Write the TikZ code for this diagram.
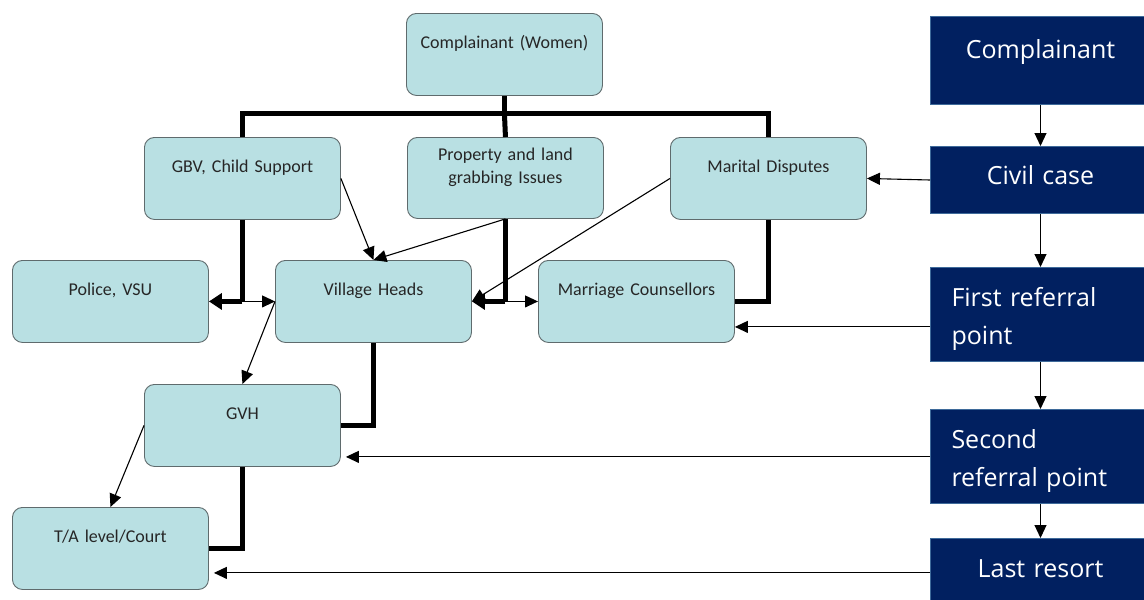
\documentclass[tikz,border=0pt]{standalone}
\usepackage{fontspec}
\setmainfont{Carlito}
\newfontfamily\stagefont{Open Sans}
\usepackage{tikz}
\usetikzlibrary{arrows.meta,calc}
\usepackage{xcolor}
\definecolor{case-fill}{HTML}{B9E0E3}
\definecolor{case-edge}{HTML}{5F6B6D}
\definecolor{stage-blue}{HTML}{012060}
\definecolor{stage-edge}{HTML}{3E6A9A}

\tikzset{
  casebox/.style={draw=case-edge, fill=case-fill, rounded corners=10pt, line width=0.9pt,
    anchor=north west, minimum width=196pt, text width=196pt, inner sep=0pt, align=center,
    text height=35pt, text depth=47pt, text=black!85, font=\fontsize{18}{23}\selectfont},
  stagebox/.style={draw=stage-edge, fill=stage-blue, line width=1pt, anchor=north west,
    text width=178pt, inner xsep=21pt, inner ysep=0pt, align=center, text height=39pt,
    text=white, font=\stagefont\fontsize{25}{38}\selectfont},
  link/.style={line width=1.1pt, -{Triangle[length=13pt,width=12pt]}},
  heavy/.style={line width=5pt},
  heavytip/.style={-{Triangle[length=13pt,width=16pt]}}
}

\begin{document}
\begin{tikzpicture}[x=1pt, y=-1pt]
    \useasboundingbox (0,0) rectangle (1144,600);

    % case boxes
    \node[casebox] (women) at (406,13) {Complainant (Women)};
    \node[casebox] (gbv) at (144,137) {GBV, Child Support};
    \node[casebox, text height=23pt, text depth=58pt] (land) at (407,137) {Property and land\\grabbing Issues};
    \node[casebox] (marital) at (670,137) {Marital Disputes};
    \node[casebox] (police) at (12,260) {Police, VSU};
    \node[casebox] (heads) at (275,260) {Village Heads};
    \node[casebox] (counsel) at (538,260) {Marriage Counsellors};
    \node[casebox] (gvh) at (144,384) {GVH};
    \node[casebox] (court) at (12,507) {T/A level/Court};

    % stages
    \node[stagebox, text height=42pt, text depth=46pt] (complainant) at (930,16) {Complainant};
    \node[stagebox, text height=38pt, text depth=29pt] (civil) at (930,146) {Civil case};
    \node[stagebox, align=left, text depth=55pt] (first) at (930,267) {First referral\\point};
    \node[stagebox, align=left, text depth=55pt] (second) at (930,409) {Second\\referral point};
    \node[stagebox, text depth=31pt] (last) at (930,538) {Last resort};

    % heavy routes
    \draw[heavy] (women.south) -- ++(0,18) coordinate (fork);
    \draw[heavy] (gbv.north) |- (fork) -| (marital.north);
    \draw[heavy] (fork) -- (land.north);
    \draw[heavy] (gbv.south) -- (gbv.south |- police.east) coordinate (gbvdrop);
    \draw[heavy, heavytip] (gbvdrop) -- (police.east);
    \draw[link] (gbvdrop) -- (heads.west);
    \draw[heavy] (land.south) -- (land.south |- heads.east) coordinate (landdrop);
    \draw[heavy, heavytip] (landdrop) -- (heads.east);
    \draw[link] (landdrop) -- (counsel.west);
    \draw[heavy] (marital.south) |- (counsel.east);
    \draw[heavy] (heads.south) |- (gvh.east);
    \draw[heavy] (gvh.south) |- (court.east);

    % thin links
    \draw[link] (gbv.east) -- (heads.north);
    \draw[link] (land.south) -- (heads.north);
    \draw[link] (marital.west) -- (heads.east);
    \draw[link] (heads.west) -- (gvh.north);
    \draw[link] (gvh.west) -- (court.north);

    % stage chain
    \draw[link] (complainant.south) -- (civil.north);
    \draw[link] (civil.south) -- (first.north);
    \draw[link] (first.south) -- (second.north);
    \draw[link] (second.south) -- (last.north);

    \coordinate (counselin) at ($(counsel.south east)+(0,-16)$);
    \coordinate (gvhin) at ($(gvh.south east)+(5,-10)$);
    \coordinate (courtin) at ($(court.south east)+(5,-17)$);
    \draw[link] (civil.west) -- (marital.east);
    \draw[link] (first.west |- counselin) -- (counselin);
    \draw[link] (second.west |- gvhin) -- (gvhin);
    \draw[link] (last.west |- courtin) -- (courtin);
\end{tikzpicture}
\end{document}
